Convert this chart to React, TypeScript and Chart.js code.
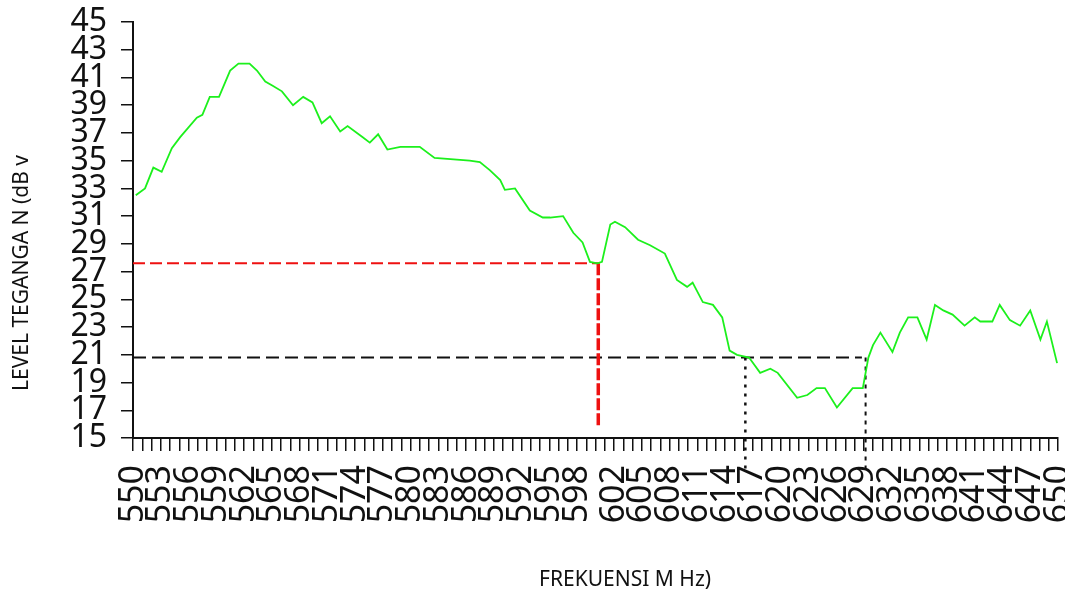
import React, { useEffect, useRef } from "react";
import { Chart, registerables } from "chart.js";

Chart.register(...registerables);

// Measured spectrum (frequency in MHz, level in dBµV)
const freqMHz = [
  550.3, 551.3, 552.2, 553.1, 554.2, 555.1, 556.9, 557.5, 558.3, 559.3,
  560.5, 561.4, 562.6, 563.4, 564.3, 565.1, 566.1, 567.3, 568.4, 569.4,
  570.4, 571.3, 572.4, 573.2, 574.8, 575.6, 576.5, 577.5, 578.9, 581.0,
  582.6, 586.4, 587.5, 588.6, 589.7, 590.2, 591.3, 592.9, 594.3, 595.1,
  596.5, 597.6, 598.6, 599.4, 600.2, 600.7, 601.6, 602.1, 603.2, 604.6,
  605.9, 607.5, 608.8, 609.9, 610.5, 611.6, 612.7, 613.7, 614.5, 615.3,
  616.6, 617.8, 618.9, 619.7, 621.8, 622.9, 623.9, 624.8, 626.1, 627.8,
  628.9, 629.5, 630.0, 630.8, 632.1, 632.9, 633.8, 634.8, 635.8, 636.7,
  637.6, 638.6, 639.9, 641.0, 641.6, 642.9, 643.7, 644.8, 645.9, 647.0,
  648.1, 648.8, 649.9,
];
const levelDb = [
  32.5, 33.0, 34.5, 34.2, 35.9, 36.7, 38.1, 38.3, 39.6, 39.6,
  41.5, 42.0, 42.0, 41.5, 40.7, 40.4, 40.0, 39.0, 39.6, 39.2,
  37.7, 38.2, 37.1, 37.5, 36.7, 36.3, 36.9, 35.8, 36.0, 36.0,
  35.2, 35.0, 34.9, 34.3, 33.6, 32.9, 33.0, 31.4, 30.9, 30.9,
  31.0, 29.8, 29.1, 27.7, 27.6, 27.7, 30.4, 30.6, 30.2, 29.3,
  28.9, 28.3, 26.4, 25.9, 26.2, 24.8, 24.6, 23.7, 21.3, 21.0,
  20.8, 19.7, 20.0, 19.7, 17.9, 18.1, 18.6, 18.6, 17.2, 18.6,
  18.6, 20.8, 21.7, 22.6, 21.2, 22.6, 23.7, 23.7, 22.1, 24.6,
  24.2, 23.9, 23.1, 23.7, 23.4, 23.4, 24.6, 23.5, 23.1, 24.2,
  22.1, 23.4, 20.4,
];

// Marker lines
const redLevel = 27.6;
const redFreq = 600.3;
const redBottom = 15.7;
const blackLevel = 20.8;
const blackEndFreq = 628.8;
const dotFreqA = 616.2;
const dotFreqB = 629.2;
const dotTopB = 19.0;
const dotBottom = 12.6;

// Axes
const xMin = 550;
const xMax = 650;
const xLabelCount = 34;
const yMin = 15;
const yMax = 45;
const yStep = 2;

const xTitle = "FREKUENSI M Hz)";
const yTitle = "LEVEL TEGANGA N (dB v";

const xLabelValues = Array.from({ length: xLabelCount }, (_, k) =>
  Math.round(xMin + (k * (xMax - xMin)) / (xLabelCount - 1))
);

const tickFamily = "'Noto Sans', 'Open Sans', 'DejaVu Sans', sans-serif";

const axisTitles = {
  id: "axisTitles",
  afterDraw(chart: any) {
    const { ctx, chartArea } = chart;
    ctx.save();
    ctx.fillStyle = "#111";
    ctx.font = "condensed 21px " + tickFamily;
    ctx.textAlign = "center";
    ctx.textBaseline = "middle";
    ctx.fillText(xTitle, chartArea.left + (chartArea.right - chartArea.left) * 0.532, 580);
    ctx.translate(22, 273);
    ctx.rotate(-Math.PI / 2);
    ctx.fillText(yTitle, 0, 0);
    ctx.restore();
  },
};

export default function App() {
  const ref = useRef<HTMLCanvasElement | null>(null);

  useEffect(() => {
    document.body.style.margin = "0";
    const canvas = ref.current;
    if (!canvas) return;
    const chart = new Chart(canvas, {
      type: "line",
      plugins: [axisTitles],
      data: {
        datasets: [
          {
            label: "level",
            data: freqMHz.map((f, i) => ({ x: f, y: levelDb[i] })),
            borderColor: "#1cf01c",
            borderWidth: 1.8,
            pointRadius: 0,
            tension: 0,
          },
          {
            label: "red-h",
            data: [
              { x: xMin, y: redLevel },
              { x: redFreq, y: redLevel },
            ],
            borderColor: "#ee1111",
            borderWidth: 2,
            borderDash: [12, 5],
            pointRadius: 0,
          },
          {
            label: "red-v",
            data: [
              { x: redFreq, y: redLevel },
              { x: redFreq, y: redBottom },
            ],
            borderColor: "#ee1111",
            borderWidth: 3.5,
            borderDash: [12, 3],
            pointRadius: 0,
          },
          {
            label: "black-h",
            data: [
              { x: xMin, y: blackLevel },
              { x: blackEndFreq, y: blackLevel },
            ],
            borderColor: "#111111",
            borderWidth: 2,
            borderDash: [13, 6],
            pointRadius: 0,
          },
          {
            label: "black-vA",
            data: [
              { x: dotFreqA, y: blackLevel },
              { x: dotFreqA, y: dotBottom },
            ],
            borderColor: "#111111",
            borderWidth: 2.5,
            borderDash: [3, 6],
            pointRadius: 0,
            clip: false,
          },
          {
            label: "black-vB",
            data: [
              { x: dotFreqB, y: blackLevel },
              { x: dotFreqB, y: dotTopB },
              { x: dotFreqB, y: dotBottom },
            ],
            borderColor: "#111111",
            borderWidth: 2,
            borderDash: [4, 5],
            pointRadius: 0,
            clip: false,
          },
        ],
      },
      options: {
        animation: false,
        responsive: false,
        layout: { padding: { top: 22, right: 7, bottom: 0, left: 40 } },
        plugins: { legend: { display: false }, tooltip: { enabled: false } },
        scales: {
          x: {
            type: "linear",
            min: xMin,
            max: xMax,
            afterBuildTicks: (scale: any) => {
              const t = [];
              for (let v = xMin; v <= xMax; v++) t.push({ value: v });
              scale.ticks = t;
            },
            afterFit: (scale: any) => {
              scale.height = 594 - 438;
              scale.paddingLeft = 0;
              scale.paddingRight = 0;
            },
            border: { display: true, color: "#111", width: 2 },
            grid: {
              drawOnChartArea: false,
              drawTicks: true,
              tickLength: 13,
              color: "#111",
              lineWidth: 1.5,
            },
            ticks: {
              autoSkip: false,
              minRotation: 90,
              maxRotation: 90,
              padding: 14,
              color: "#111",
              font: { family: tickFamily, size: 34, style: "condensed" as any },
              callback: (v: any) =>
                xLabelValues.includes(Number(v)) ? String(v) : "",
            },
          },
          y: {
            min: yMin,
            max: yMax,
            afterFit: (scale: any) => {
              scale.width = 133 - 40;
              scale.paddingTop = 0;
              scale.paddingBottom = 0;
            },
            border: { display: true, color: "#111", width: 2 },
            grid: {
              drawOnChartArea: false,
              drawTicks: true,
              tickLength: 12,
              color: "#111",
              lineWidth: 1.5,
            },
            ticks: {
              stepSize: yStep,
              autoSkip: false,
              padding: 14,
              color: "#111",
              font: { family: tickFamily, size: 32, style: "condensed" as any },
            },
          },
        },
      },
    });
    return () => chart.destroy();
  }, []);

  return (
    <div style={{ width: 1065, height: 594, background: "#fff" }}>
      <canvas ref={ref} width={1065} height={594} />
    </div>
  );
}
